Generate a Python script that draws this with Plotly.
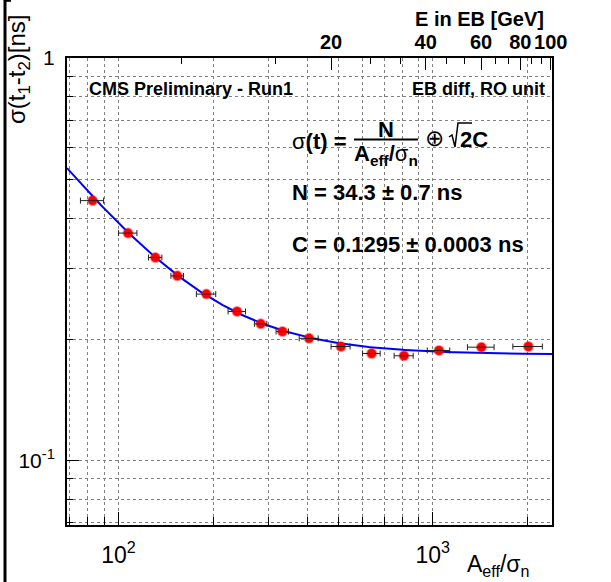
import numpy as np
import plotly.graph_objects as go

# Timing resolution vs. normalised amplitude (EB diff, RO unit)
a_over_sigma = [82.7, 107.3, 131.1, 154.0, 190.5, 238.5, 283.7, 332.5,
                404.1, 510.4, 639.4, 810.3, 1047.0, 1429.0, 2016.0]
a_err = [7.0, 7.2, 6.4, 7.1, 13.5, 15.2, 12.9, 15.1,
         28.1, 35.5, 41.2, 56.4, 86.0, 139.0, 217.0]
sigma_t = [0.442, 0.367, 0.319, 0.2873, 0.2588, 0.2343, 0.2183, 0.2089,
           0.2009, 0.1917, 0.1842, 0.1818, 0.1874, 0.1910, 0.1917]

# fit parameters
N_FIT = 34.3
C_FIT = 0.1295

# energy scale of the top axis
GEV_PER_UNIT = 0.0421
x_lo, x_hi = 68.6, 2397.0
y_lo, y_hi = 0.069, 1.0

x_major = [100, 1000]
x_major_text = ["10<sup>2</sup>", "10<sup>3</sup>"]
x_minor = [70, 80, 90, 200, 300, 400, 500, 600, 700, 800, 900, 2000]
y_major = [0.1, 1.0]
y_major_text = ["10<sup>-1</sup>", "1"]
y_minor = [0.07, 0.08, 0.09, 0.2, 0.3, 0.4, 0.5, 0.6, 0.7, 0.8, 0.9]
e_major = [20, 40, 60, 80, 100]
e_minor = [20 / 3 * i for i in range(1, 16) if i % 3 != 0]

W, H = 611, 582
ML, MR, MT, MB = 67, 59, 58, 57
PW, PH = W - ML - MR, H - MT - MB


def px(x):
    return (x - ML) / PW


def py(y):
    return (H - MB - y) / PH


xf = np.logspace(np.log10(x_lo), np.log10(x_hi), 300)
yf = np.sqrt((N_FIT / xf) ** 2 + 2 * C_FIT ** 2)

fig = go.Figure()
fig.add_trace(go.Scatter(x=xf, y=yf, mode="lines",
                         line=dict(color="#0000ff", width=2), hoverinfo="skip"))
fig.add_trace(go.Scatter(x=a_over_sigma, y=sigma_t, mode="markers",
                         marker=dict(symbol="circle", size=9, color="#ff0000",
                                     line=dict(color="rgba(255,0,0,0.45)", width=2))))
fig.add_trace(go.Scatter(x=a_over_sigma, y=sigma_t, mode="markers",
                         marker=dict(size=1, color="rgba(0,0,0,0)"),
                         error_x=dict(type="data", array=a_err, color="#222222",
                                      thickness=1, width=3)))
# carrier for the energy axis
fig.add_trace(go.Scatter(x=[x_lo * GEV_PER_UNIT, x_hi * GEV_PER_UNIT], y=[0.1, 0.1],
                         xaxis="x2", mode="markers",
                         marker=dict(size=1, color="rgba(0,0,0,0)"), hoverinfo="skip"))

grid = dict(showgrid=True, gridcolor="#808080", griddash="dot", gridwidth=1)

fig.update_layout(
    width=W, height=H, showlegend=False,
    margin=dict(l=ML, r=MR, t=MT, b=MB, pad=0),
    paper_bgcolor="white", plot_bgcolor="white",
    font=dict(family="Liberation Sans, Arial", color="black"),
    xaxis=dict(type="log", range=[np.log10(x_lo), np.log10(x_hi)],
               tickmode="array", tickvals=x_major, ticktext=x_major_text,
               ticks="inside", ticklen=13, tickwidth=1, tickcolor="black",
               tickfont=dict(size=23), ticklabelstandoff=8,
               showline=True, linecolor="black", linewidth=2, mirror=True,
               zeroline=False, **grid,
               minor=dict(tickmode="array", tickvals=x_minor, ticks="inside",
                          ticklen=8, tickwidth=1, tickcolor="black", **grid)),
    yaxis=dict(type="log", range=[np.log10(y_lo), np.log10(y_hi)],
               tickmode="array", tickvals=y_major, ticktext=y_major_text,
               ticks="inside", ticklen=12, tickwidth=1, tickcolor="black",
               tickfont=dict(size=21), ticklabelstandoff=6,
               showline=True, linecolor="black", linewidth=2, mirror=True,
               zeroline=False, **grid,
               minor=dict(tickmode="array", tickvals=y_minor, ticks="inside",
                          ticklen=6, tickwidth=1, tickcolor="black", **grid)),
    xaxis2=dict(type="log", overlaying="x", side="top", anchor="y",
                range=[np.log10(x_lo * GEV_PER_UNIT), np.log10(x_hi * GEV_PER_UNIT)],
                tickmode="array", tickvals=e_major,
                ticktext=["<b>%d</b>" % v for v in e_major],
                ticks="inside", ticklen=12, tickwidth=1, tickcolor="black",
                tickfont=dict(size=20), ticklabelstandoff=4,
                showgrid=False, zeroline=False, showline=False,
                minor=dict(tickmode="array", tickvals=e_minor, ticks="inside",
                           ticklen=6, tickwidth=1, tickcolor="black", showgrid=False)),
)


def label(text, x, y, size, xanchor="left", yanchor="middle", angle=0):
    fig.add_annotation(text=text, x=px(x), y=py(y), xref="paper", yref="paper",
                       xanchor=xanchor, yanchor=yanchor, showarrow=False,
                       textangle=angle, font=dict(size=size, color="black"))


label("<b>CMS Preliminary - Run1</b>", 87, 89, 18)
label("<b>EB diff, RO unit</b>", 547, 89, 18, xanchor="right")
label("σ<b>(t) =</b>", 290, 141, 22)
label("<b>N</b>", 386, 129, 22, xanchor="center")
label("<b>A<sub>eff</sub>/</b>σ<sub><b>n</b></sub>", 386, 155, 22, xanchor="center")
label("⊕", 434, 138, 23, xanchor="center")
label("<b>2C</b>", 458, 139, 22)
label("<b>N = 34.3 ± 0.7 ns</b>", 290, 193, 22)
label("<b>C = 0.1295 ± 0.0003 ns</b>", 290, 244, 22)
label("<b>E in EB [GeV]</b>", 546, 19, 20, xanchor="right")
label("A<sub>eff</sub>/σ<sub>n</sub>", 465, 565, 23)
label("σ(t<sub>1</sub>-t<sub>2</sub>)[ns]", 19, 12, 24, xanchor="center", yanchor="top", angle=-90)

# fraction bar of the resolution formula
fig.add_shape(type="line", xref="paper", yref="paper",
              x0=px(354), x1=px(418), y0=py(139.5), y1=py(139.5),
              line=dict(color="black", width=2))
# radical sign over the 2
rad = [(449, 137), (452, 135), (455, 147), (458, 123), (472, 123)]
path = "M " + " L ".join("%f,%f" % (px(a), py(b)) for a, b in rad)
fig.add_shape(type="path", xref="paper", yref="paper", path=path,
              line=dict(color="black", width=1.5))
# page border on the left edge
fig.add_shape(type="line", xref="paper", yref="paper",
              x0=px(5), x1=px(5), y0=py(0), y1=py(H),
              line=dict(color="black", width=3))
fig.add_shape(type="line", xref="paper", yref="paper",
              x0=px(4), x1=px(11), y0=py(0.8), y1=py(0.8),
              line=dict(color="black", width=2))

fig.write_html("out.html")
